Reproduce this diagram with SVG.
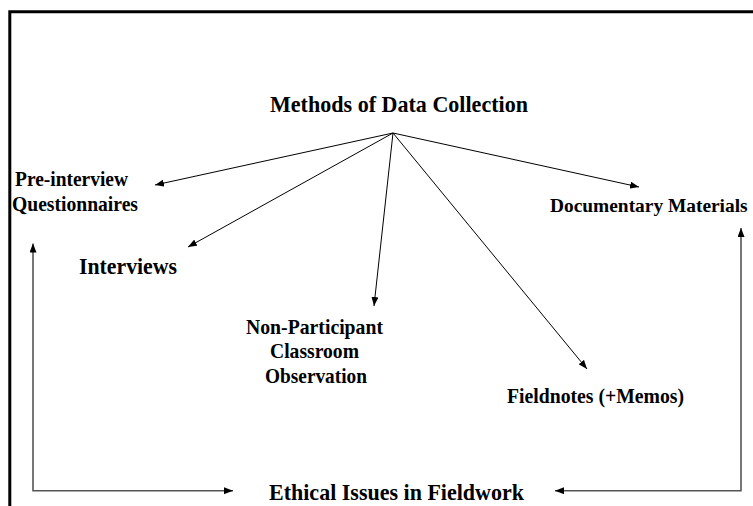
<svg xmlns="http://www.w3.org/2000/svg" width="753" height="506" viewBox="0 0 753 506">
<style>
text{font-family:"Liberation Serif","Times New Roman",serif;font-weight:bold;fill:#000}
.s{font-size:21px}
.l{font-size:23.5px}
.c{stroke:#000;stroke-width:1;fill:none}
.f{stroke:#555;stroke-width:1.6;fill:none}
</style>
<defs>
<marker id="ah" markerUnits="userSpaceOnUse" viewBox="0 0 9 7" refX="9" refY="3.5" markerWidth="9" markerHeight="7" orient="auto-start-reverse">
<path d="M0,0 L9,3.5 L0,7 Z" fill="#000"/>
</marker>
</defs>
<rect x="0" y="0" width="753" height="506" fill="#fff"/>
<path d="M9.8,506 V11.8 H753" fill="none" stroke="#000" stroke-width="3"/>
<g id="connectors">
<line class="c" x1="393" y1="133" x2="155" y2="185" marker-end="url(#ah)"/>
<line class="c" x1="393" y1="133" x2="188" y2="247" marker-end="url(#ah)"/>
<line class="c" x1="393" y1="133" x2="374" y2="306" marker-end="url(#ah)"/>
<line class="c" x1="393" y1="133" x2="587" y2="369" marker-end="url(#ah)"/>
<line class="c" x1="393" y1="133" x2="639" y2="187" marker-end="url(#ah)"/>
<polyline class="f" points="33,243.5 33,490.7 233,490.7" marker-start="url(#ah)" marker-end="url(#ah)"/>
<polyline class="f" points="741,228 741,490.7 555,490.7" marker-start="url(#ah)" marker-end="url(#ah)"/>
</g>
<g id="methods"><text class="l" x="399" y="112" text-anchor="middle" textLength="258" lengthAdjust="spacingAndGlyphs">Methods of Data Collection</text></g>
<g id="preinterview"><text class="s" x="15" y="186" textLength="113" lengthAdjust="spacingAndGlyphs">Pre-interview</text><text class="s" x="12" y="211" textLength="126" lengthAdjust="spacingAndGlyphs">Questionnaires</text></g>
<g id="interviews"><text class="l" x="79" y="274" textLength="98" lengthAdjust="spacingAndGlyphs">Interviews</text></g>
<g id="documentary"><text x="550" y="212" style="font-size:19.4px">Documentary Materials</text></g>
<g id="observation"><text class="s" x="314.5" y="334" text-anchor="middle" textLength="137" lengthAdjust="spacingAndGlyphs">Non-Participant</text><text class="s" x="314.5" y="358" text-anchor="middle" textLength="89" lengthAdjust="spacingAndGlyphs">Classroom</text><text class="s" x="316" y="383" text-anchor="middle" textLength="102" lengthAdjust="spacingAndGlyphs">Observation</text></g>
<g id="fieldnotes"><text class="s" x="507" y="403" textLength="177" lengthAdjust="spacingAndGlyphs">Fieldnotes (+Memos)</text></g>
<g id="ethical"><text class="l" x="269" y="500" textLength="255" lengthAdjust="spacingAndGlyphs">Ethical Issues in Fieldwork</text></g>
</svg>
